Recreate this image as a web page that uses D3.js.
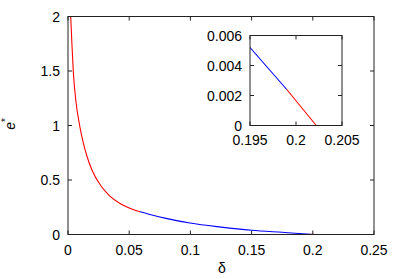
<!DOCTYPE html>
<html>
<head>
<meta charset="utf-8">
<script src="https://cdn.jsdelivr.net/npm/d3@7"></script>
<style>
  body { margin: 0; background: #fff; }
  text { font-family: "Liberation Sans", Arial, sans-serif; font-size: 14px; fill: #000; }
</style>
</head>
<body>
<div id="chart"></div>
<script>
// e* vs delta
var redHead = [[0.0022, 2.0], [0.0032, 1.75], [0.0043, 1.5], [0.0065, 1.22], [0.0095, 1.0],
               [0.0125, 0.84], [0.0153, 0.725], [0.02, 0.58], [0.0267, 0.45], [0.034, 0.355],
               [0.0425, 0.285], [0.05, 0.243], [0.0588, 0.208]];
var blueMid = [[0.0588, 0.208], [0.067, 0.183], [0.08, 0.148], [0.0997, 0.105], [0.125, 0.068],
               [0.15, 0.039], [0.175, 0.02], [0.195, 0.0052], [0.199, 0.0024]];
var redTail = [[0.199, 0.0024], [0.2022, 0]];

var xTicks = [0, 0.05, 0.1, 0.15, 0.2, 0.25];
var yTicks = [0, 0.5, 1, 1.5, 2];
var insetXTicks = [0.195, 0.2, 0.205];
var insetYTicks = [0, 0.002, 0.004, 0.006];

var W = 399, H = 279;
var svg = d3.select("#chart").append("svg").attr("width", W).attr("height", H);

var x = d3.scaleLinear().domain([0, 0.25]).range([68, 374]);
var y = d3.scaleLinear().domain([0, 2]).range([234.5, 16.5]);

function frame(g, xs, ys, xt, yt, fmtX, fmtY, tk, labDy) {
  var x0 = xs.range()[0], x1 = xs.range()[1], y0 = ys.range()[0], y1 = ys.range()[1];
  g.append("rect").attr("x", x0).attr("y", y1).attr("width", x1 - x0).attr("height", y0 - y1)
    .attr("fill", "none").attr("stroke", "#222").attr("stroke-width", 1);
  xt.forEach(function (t) {
    var px = xs(t);
    g.append("line").attr("x1", px).attr("x2", px).attr("y1", y0).attr("y2", y0 - tk).attr("stroke", "#222");
    g.append("line").attr("x1", px).attr("x2", px).attr("y1", y1).attr("y2", y1 + tk).attr("stroke", "#222");
    g.append("text").attr("x", px).attr("y", y0 + labDy).attr("text-anchor", "middle").text(fmtX(t));
  });
  yt.forEach(function (t) {
    var py = ys(t);
    g.append("line").attr("x1", x0).attr("x2", x0 + tk).attr("y1", py).attr("y2", py).attr("stroke", "#222");
    g.append("line").attr("x1", x1).attr("x2", x1 - tk).attr("y1", py).attr("y2", py).attr("stroke", "#222");
    g.append("text").attr("x", x0 - 8).attr("y", py + 5).attr("text-anchor", "end").text(fmtY(t));
  });
}

// main plot
svg.append("clipPath").attr("id", "clipMain").append("rect")
  .attr("x", 68).attr("y", 16.5).attr("width", 306).attr("height", 218);
var line = d3.line().x(function (d) { return x(d[0]); }).y(function (d) { return y(d[1]); })
  .curve(d3.curveMonotoneX);
var gm = svg.append("g").attr("clip-path", "url(#clipMain)");
gm.append("path").attr("d", line(redHead)).attr("fill", "none").attr("stroke", "#ff0000").attr("stroke-width", 1.1);
gm.append("path").attr("d", line(blueMid)).attr("fill", "none").attr("stroke", "#0000ff").attr("stroke-width", 1.1);
gm.append("path").attr("d", line(redTail)).attr("fill", "none").attr("stroke", "#ff0000").attr("stroke-width", 1.1);

frame(svg.append("g"), x, y, xTicks, yTicks, d3.format("~g"), d3.format("~g"), 4, 20);

svg.append("text").attr("x", 222).attr("y", 273).attr("text-anchor", "middle").text("δ");
svg.append("text").attr("transform", "translate(15,124) rotate(-90)").attr("text-anchor", "middle")
  .html('<tspan font-style="italic">e</tspan><tspan dy="-6" font-size="10px">*</tspan>');

// inset
var xi = d3.scaleLinear().domain([0.195, 0.205]).range([250, 342]);
var yi = d3.scaleLinear().domain([0, 0.006]).range([125.5, 35.5]);
svg.append("rect").attr("x", 250).attr("y", 35.5).attr("width", 92).attr("height", 90).attr("fill", "#fff");
svg.append("clipPath").attr("id", "clipInset").append("rect")
  .attr("x", 250).attr("y", 35.5).attr("width", 92).attr("height", 90);
var lineI = d3.line().x(function (d) { return xi(d[0]); }).y(function (d) { return yi(d[1]); });
var gi = svg.append("g").attr("clip-path", "url(#clipInset)");
gi.append("path").attr("d", lineI(blueMid.slice(-3))).attr("fill", "none").attr("stroke", "#0000ff").attr("stroke-width", 1.1);
gi.append("path").attr("d", lineI(redTail)).attr("fill", "none").attr("stroke", "#ff0000").attr("stroke-width", 1.1);

frame(svg.append("g"), xi, yi, insetXTicks, insetYTicks, d3.format("~g"), d3.format("~g"), 4, 19.5);
</script>
</body>
</html>
